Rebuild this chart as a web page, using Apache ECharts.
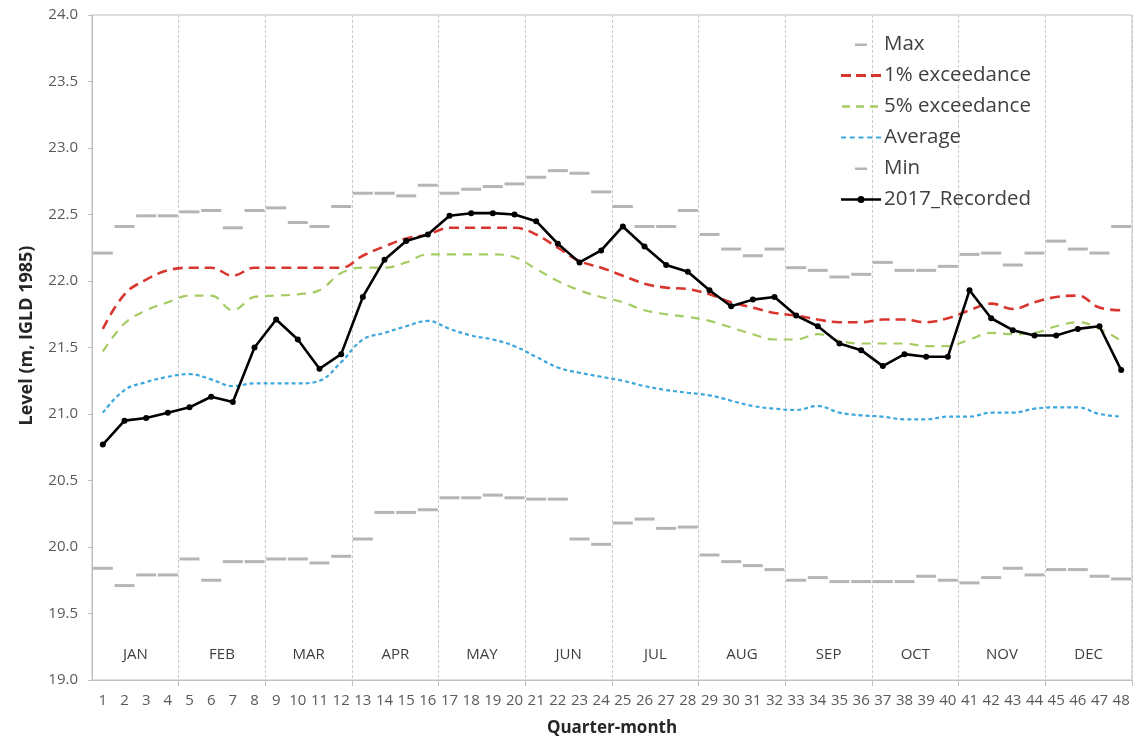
<!DOCTYPE html>
<html>
<head>
<meta charset="utf-8">
<title>Quarter-month water levels</title>
<script src="https://cdn.jsdelivr.net/npm/echarts@6/dist/echarts.min.js"></script>
<style>
  html, body { margin: 0; padding: 0; background: #ffffff; }
  #chart { width: 1148px; height: 742px; }
</style>
</head>
<body>
<div id="chart"></div>
<script>
// Quarter-month index along the x axis (1..48)
const quarterMonths = Array.from({ length: 48 }, (_, i) => String(i + 1));
const months = ['JAN', 'FEB', 'MAR', 'APR', 'MAY', 'JUN', 'JUL', 'AUG', 'SEP', 'OCT', 'NOV', 'DEC'];

// Water level statistics, m (IGLD 1985)
const maxLevels = [22.21, 22.41, 22.49, 22.49, 22.52, 22.53, 22.40, 22.53, 22.55, 22.44, 22.41, 22.56,
  22.66, 22.66, 22.64, 22.72, 22.66, 22.69, 22.71, 22.73, 22.78, 22.83, 22.81, 22.67,
  22.56, 22.41, 22.41, 22.53, 22.35, 22.24, 22.19, 22.24, 22.10, 22.08, 22.03, 22.05,
  22.14, 22.08, 22.08, 22.11, 22.20, 22.21, 22.12, 22.21, 22.30, 22.24, 22.21, 22.41];

const exceed1 = [21.64, 21.90, 22.01, 22.08, 22.10, 22.10, 22.04, 22.10, 22.10, 22.10, 22.10, 22.10,
  22.19, 22.26, 22.32, 22.35, 22.40, 22.40, 22.40, 22.40, 22.35, 22.25, 22.15, 22.10,
  22.04, 21.98, 21.95, 21.94, 21.90, 21.84, 21.80, 21.76, 21.74, 21.71, 21.69, 21.69,
  21.71, 21.71, 21.69, 21.72, 21.78, 21.83, 21.79, 21.84, 21.88, 21.89, 21.80, 21.78];

const exceed5 = [21.47, 21.68, 21.78, 21.84, 21.89, 21.89, 21.78, 21.88, 21.89, 21.90, 21.93, 22.06,
  22.10, 22.10, 22.14, 22.20, 22.20, 22.20, 22.20, 22.18, 22.09, 22.00, 21.93, 21.88,
  21.84, 21.78, 21.75, 21.73, 21.70, 21.65, 21.60, 21.56, 21.56, 21.60, 21.55, 21.53,
  21.53, 21.53, 21.51, 21.51, 21.56, 21.61, 21.60, 21.61, 21.66, 21.69, 21.64, 21.55];

const averageLevels = [21.01, 21.18, 21.24, 21.28, 21.30, 21.26, 21.21, 21.23, 21.23, 21.23, 21.25, 21.39,
  21.56, 21.61, 21.66, 21.70, 21.64, 21.59, 21.56, 21.51, 21.43, 21.35, 21.31, 21.28,
  21.25, 21.21, 21.18, 21.16, 21.14, 21.10, 21.06, 21.04, 21.03, 21.06, 21.01, 20.99,
  20.98, 20.96, 20.96, 20.98, 20.98, 21.01, 21.01, 21.04, 21.05, 21.05, 21.00, 20.98];

const minLevels = [19.84, 19.71, 19.79, 19.79, 19.91, 19.75, 19.89, 19.89, 19.91, 19.91, 19.88, 19.93,
  20.06, 20.26, 20.26, 20.28, 20.37, 20.37, 20.39, 20.37, 20.36, 20.36, 20.06, 20.02,
  20.18, 20.21, 20.14, 20.15, 19.94, 19.89, 19.86, 19.83, 19.75, 19.77, 19.74, 19.74,
  19.74, 19.74, 19.78, 19.75, 19.73, 19.77, 19.84, 19.79, 19.83, 19.83, 19.78, 19.76];

const recorded2017 = [20.77, 20.95, 20.97, 21.01, 21.05, 21.13, 21.09, 21.50, 21.71, 21.56, 21.34, 21.45,
  21.88, 22.16, 22.30, 22.35, 22.49, 22.51, 22.51, 22.50, 22.45, 22.28, 22.14, 22.23,
  22.41, 22.26, 22.12, 22.07, 21.93, 21.81, 21.86, 21.88, 21.74, 21.66, 21.53, 21.48,
  21.36, 21.45, 21.43, 21.43, 21.93, 21.72, 21.63, 21.59, 21.59, 21.64, 21.66, 21.33];

const FONT = "'Open Sans', 'Noto Sans', sans-serif";
const COLORS = {
  extreme: '#a3a3a3',
  exceed1: '#d8352f',
  exceed5: '#a4cc62',
  average: '#3ba7dc',
  recorded: '#000000'
};

// Legend glyphs, each in a 40x14 box (two tiny corner marks pin the box size)
const BOX = 'M0,0h0.01v0.01h-0.01zM39.99,13.99h0.01v0.01h-0.01z';
const ICONS = {
  dash: 'path://' + BOX + 'M14,6h12v2.4h-12z',
  exceed1: 'path://' + BOX + 'M0,5.6h10v2.8h-10zM15,5.6h10v2.8h-10zM30,5.6h10v2.8h-10z',
  exceed5: 'path://' + BOX + 'M1,5.8h8v2.4h-8zM15,5.8h8v2.4h-8zM29,5.8h8v2.4h-8z',
  average: 'path://' + BOX + 'M0,6h5v2h-5zM8.75,6h5v2h-5zM17.5,6h5v2h-5zM26.25,6h5v2h-5zM35,6h5v2h-5z',
  recorded: 'path://' + BOX + 'M0,5.8h17v2.4h-17zM23,5.8h17v2.4h-17zM16.5,7a3.5,3.5 0 1,1 7,0a3.5,3.5 0 1,1 -7,0z'
};

const groupBoundary = (index) => index > 0 && index % 4 === 0;

const chart = echarts.init(document.getElementById('chart'), null, { renderer: 'canvas' });

chart.setOption({
  animation: false,
  backgroundColor: '#ffffff',
  textStyle: { fontFamily: FONT },
  grid: {
    left: 92, right: 16, top: 15, bottom: 60,
    show: true, borderColor: '#bfbfbf', borderWidth: 1
  },
  legend: {
    orient: 'vertical',
    left: 836,
    top: 29,
    itemWidth: 40,
    itemHeight: 14,
    itemGap: 10,
    selectedMode: false,
    textStyle: { fontFamily: FONT, fontSize: 20.5, color: '#404040', lineHeight: 20, padding: [0, 0, 0, -2] },
    data: [
      { name: 'Max', icon: ICONS.dash, itemStyle: { color: COLORS.extreme, borderWidth: 0 } },
      { name: '1% exceedance', icon: ICONS.exceed1, itemStyle: { color: COLORS.exceed1, borderWidth: 0 } },
      { name: '5% exceedance', icon: ICONS.exceed5, itemStyle: { color: COLORS.exceed5, borderWidth: 0 } },
      { name: 'Average', icon: ICONS.average, itemStyle: { color: COLORS.average, borderWidth: 0 } },
      { name: 'Min', icon: ICONS.dash, itemStyle: { color: COLORS.extreme, borderWidth: 0 } },
      { name: '2017_Recorded', icon: ICONS.recorded, itemStyle: { color: COLORS.recorded, borderWidth: 0 } }
    ]
  },
  xAxis: [
    {
      type: 'category',
      data: quarterMonths,
      boundaryGap: true,
      name: 'Quarter-month',
      nameLocation: 'middle',
      nameGap: 40,
      nameTextStyle: { fontFamily: FONT, fontSize: 17, fontWeight: 'bold', color: '#262626' },
      axisLine: { show: true, lineStyle: { color: '#bfbfbf', width: 1 } },
      axisTick: { show: true, interval: groupBoundary, length: 6, lineStyle: { color: '#bfbfbf' } },
      axisLabel: { interval: 0, margin: 13, fontFamily: FONT, fontSize: 15, color: '#595959' },
      splitLine: { show: true, interval: groupBoundary, lineStyle: { color: '#c8c8c8', width: 1, type: [3, 2] } }
    },
    {
      type: 'category',
      data: months,
      position: 'bottom',
      boundaryGap: true,
      axisLine: { show: false },
      axisTick: { show: false },
      splitLine: { show: false },
      axisLabel: {
        inside: true, interval: 0, margin: 25, verticalAlign: 'middle',
        fontFamily: FONT, fontSize: 15, color: '#404040'
      }
    }
  ],
  yAxis: {
    type: 'value',
    min: 19,
    max: 24,
    interval: 0.5,
    name: 'Level (m, IGLD 1985)',
    nameLocation: 'middle',
    nameGap: 56,
    nameRotate: 90,
    nameTextStyle: { fontFamily: FONT, fontSize: 18, fontWeight: 'bold', color: '#262626', padding: [0, 0, 0, 24] },
    axisLine: { show: true, lineStyle: { color: '#bfbfbf', width: 1 } },
    axisTick: { show: true, length: 4, lineStyle: { color: '#bfbfbf' } },
    axisLabel: { margin: 14, fontFamily: FONT, fontSize: 15, color: '#595959', formatter: (v) => v.toFixed(1) },
    splitLine: { show: false }
  },
  series: [
    {
      name: 'Max',
      type: 'scatter',
      data: maxLevels,
      symbol: 'rect',
      symbolSize: [20, 3],
      itemStyle: { color: COLORS.extreme },
      z: 2
    },
    {
      name: '1% exceedance',
      type: 'line',
      data: exceed1,
      smooth: 0.4,
      symbol: 'none',
      lineStyle: { color: COLORS.exceed1, width: 2.6, type: [10, 6] },
      itemStyle: { color: COLORS.exceed1 },
      z: 3
    },
    {
      name: '5% exceedance',
      type: 'line',
      data: exceed5,
      smooth: 0.4,
      symbol: 'none',
      lineStyle: { color: COLORS.exceed5, width: 2.2, type: [9, 7] },
      itemStyle: { color: COLORS.exceed5 },
      z: 3
    },
    {
      name: 'Average',
      type: 'line',
      data: averageLevels,
      smooth: 0.4,
      symbol: 'none',
      lineStyle: { color: COLORS.average, width: 2.2, type: [4, 3] },
      itemStyle: { color: COLORS.average },
      z: 3
    },
    {
      name: 'Min',
      type: 'scatter',
      data: minLevels,
      symbol: 'rect',
      symbolSize: [20, 3],
      itemStyle: { color: COLORS.extreme },
      z: 2
    },
    {
      name: '2017_Recorded',
      type: 'line',
      data: recorded2017,
      smooth: false,
      symbol: 'circle',
      symbolSize: 6,
      showSymbol: true,
      lineStyle: { color: COLORS.recorded, width: 2.6 },
      itemStyle: { color: COLORS.recorded, borderWidth: 0 },
      z: 5
    }
  ]
});
</script>
</body>
</html>
